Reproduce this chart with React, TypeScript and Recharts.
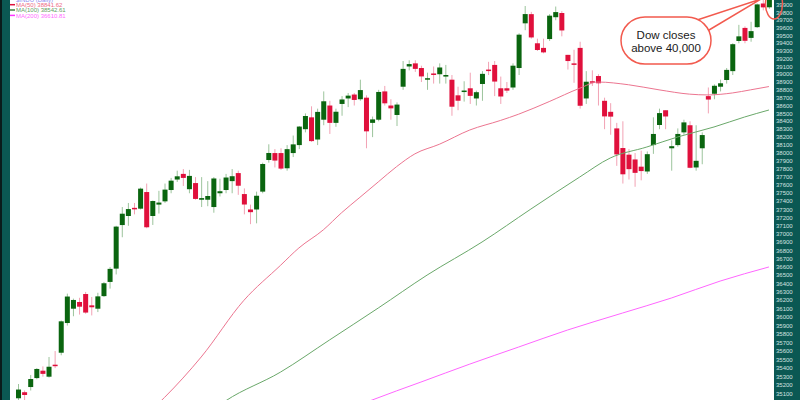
import { Bar, ComposedChart, Line, XAxis, YAxis } from "recharts";

// Dow Jones Industrial Average, daily candles (Nov 20 2023 - May 17 2024)
const dates = [
  "11/20", "11/21", "11/22", "11/24", "11/27", "11/28", "11/29", "11/30",
  "12/01", "12/04", "12/05", "12/06", "12/07", "12/08", "12/11", "12/12", "12/13", "12/14", "12/15", "12/18",
  "12/19", "12/20", "12/21", "12/22", "12/26", "12/27", "12/28", "12/29",
  "01/02", "01/03", "01/04", "01/05", "01/08", "01/09", "01/10", "01/11", "01/12", "01/16", "01/17", "01/18",
  "01/19", "01/22", "01/23", "01/24", "01/25", "01/26", "01/29", "01/30", "01/31",
  "02/01", "02/02", "02/05", "02/06", "02/07", "02/08", "02/09", "02/12", "02/13", "02/14", "02/15", "02/16",
  "02/20", "02/21", "02/22", "02/23", "02/26", "02/27", "02/28", "02/29",
  "03/01", "03/04", "03/05", "03/06", "03/07", "03/08", "03/11", "03/12", "03/13", "03/14", "03/15", "03/18",
  "03/19", "03/20", "03/21", "03/22", "03/25", "03/26", "03/27", "03/28",
  "04/01", "04/02", "04/03", "04/04", "04/05", "04/08", "04/09", "04/10", "04/11", "04/12", "04/15", "04/16",
  "04/17", "04/18", "04/19", "04/22", "04/23", "04/24", "04/25", "04/26", "04/29", "04/30",
  "05/01", "05/02", "05/03", "05/06", "05/07", "05/08", "05/09", "05/10", "05/13", "05/14", "05/15", "05/16", "05/17"
];

const opens = [
  35050, 35120, 35180, 35284, 35370, 35300, 35440, 35580, 35930, 36100, 36180, 36275, 36140, 36100, 36250, 36420,
  36580, 37109, 37220, 37320, 37310, 37515, 37220, 37360, 37400, 37540, 37670, 37740, 37550, 37626, 37420, 37420,
  37330, 37500, 37540, 37650, 37750, 37490, 37300, 37300, 37520, 37913, 38000, 38000, 37810, 38000, 38100, 38300,
  38450, 38170, 38420, 38600, 38380, 38620, 38690, 38740, 38680, 38700, 38380, 38420, 38780, 38600, 38480, 38840,
  39100, 39140, 39080, 38930, 39010, 39000, 38970, 38930, 38730, 38780, 38820, 38690, 38875, 39060, 39120, 38820,
  38820, 38830, 39080, 39660, 39780, 39400, 39340, 39455, 39740, 39795, 39250, 39140, 39340, 38690, 38910, 38977,
  38660, 38520, 38310, 38063, 37980, 37920, 37830, 37770, 38100, 38353, 38540, 38060, 38100, 38260, 38350, 37820,
  38060, 38720, 38750, 38840, 38926, 39040, 39430, 39600, 39470, 39610, 39920, 39870
];

const highs = [
  35215, 35140, 35320, 35400, 35420, 35530, 35600, 35960, 36280, 36220, 36230, 36300, 36240, 36290, 36420, 36600,
  37100, 37330, 37380, 37380, 37570, 37620, 37410, 37530, 37620, 37690, 37780, 37800, 37790, 37700, 37700, 37650,
  37700, 37680, 37740, 37800, 37780, 37560, 37360, 37520, 37880, 38110, 38050, 38060, 38100, 38220, 38340, 38500,
  38590, 38560, 38780, 38660, 38560, 38720, 38760, 38760, 38930, 38730, 38460, 38800, 38850, 38680, 38640, 39170,
  39180, 39180, 39110, 39020, 39100, 39140, 39120, 38990, 38840, 38910, 39020, 38790, 39040, 39160, 39170, 38970,
  38900, 39140, 39530, 39887, 39810, 39460, 39460, 39780, 39880, 39820, 39250, 39316, 39420, 39040, 39050, 39000,
  38700, 38630, 38380, 38400, 38050, 38000, 38030, 38020, 38450, 38560, 38540, 38160, 38310, 38420, 38400, 38350,
  38260, 38830, 38870, 38930, 39080, 39400, 39640, 39620, 39680, 39920, 40051, 40077
];

const lows = [
  35000, 35020, 35140, 35270, 35300, 35290, 35400, 35550, 35900, 36010, 36030, 36040, 36020, 36060, 36240, 36340,
  36510, 36960, 37100, 37240, 37300, 37070, 37110, 37250, 37380, 37500, 37640, 37590, 37500, 37420, 37330, 37340,
  37260, 37460, 37500, 37500, 37480, 37240, 37120, 37130, 37500, 37880, 37820, 37790, 37780, 37950, 38050, 38260,
  38140, 38100, 38350, 38240, 38330, 38470, 38580, 38600, 38660, 38060, 38200, 38400, 38600, 38420, 38340, 38800,
  39050, 39030, 38900, 38800, 38880, 38880, 38880, 38470, 38540, 38650, 38620, 38600, 38660, 38990, 38720, 38620,
  38760, 38800, 38990, 39570, 39460, 39300, 39270, 39430, 39700, 39490, 39060, 38890, 38560, 38620, 38850, 38600,
  38300, 38230, 37840, 37620, 37670, 37580, 37660, 37740, 37990, 38300, 38300, 37780, 38080, 38230, 37810, 37780,
  37860, 38500, 38680, 38780, 38880, 38990, 39400, 39400, 39420, 39600, 39830, 39850
];

const closes = [
  35151, 35088, 35273, 35390, 35333, 35416, 35430, 35950, 36245, 36204, 36124, 36054, 36117, 36247, 36404, 36577,
  37090, 37248, 37305, 37306, 37557, 37082, 37404, 37385, 37545, 37656, 37710, 37690, 37715, 37430, 37440, 37466,
  37683, 37525, 37695, 37711, 37593, 37361, 37267, 37469, 37863, 38001, 37906, 37806, 38049, 38109, 38333, 38467,
  38150, 38519, 38654, 38380, 38521, 38677, 38726, 38671, 38797, 38273, 38424, 38773, 38628, 38564, 38612, 39069,
  39131, 39069, 38972, 38949, 38996, 39087, 38990, 38585, 38661, 38791, 38723, 38770, 39005, 39043, 38906, 38715,
  38790, 39110, 39512, 39781, 39476, 39313, 39282, 39760, 39807, 39567, 39170, 39127, 38597, 38904, 38892, 38884,
  38462, 38459, 37983, 37735, 37799, 37753, 37775, 37986, 38240, 38504, 38461, 38086, 38240, 38386, 37816, 37903,
  38226, 38676, 38852, 38884, 39056, 39388, 39490, 39432, 39558, 39908, 39869, 40003
];

// moving averages at [candle index, value]
const ma50Points = [
  [18, 34680], [24, 35060], [30, 35530], [37, 36200], [43, 36620], [46, 36830], [50, 37050], [53, 37260],
  [56, 37450], [59, 37640], [62, 37830], [65, 37990], [69, 38110], [74, 38290], [79, 38410], [82, 38490],
  [87, 38650], [92, 38820], [95, 38900], [100, 38865], [105, 38800], [110, 38745], [113, 38735], [117, 38760],
  [120, 38800], [123, 38842]
];
const ma100Points = [
  [28, 34700], [34, 35020], [43, 35354], [51, 35729], [59, 36108], [67, 36502], [76, 36902], [84, 37305],
  [92, 37701], [97, 37938], [103, 38076], [108, 38201], [114, 38328], [119, 38454], [123, 38543]
];
const ma200Points = [
  [50, 34800], [58, 35030], [66, 35238], [74, 35447], [82, 35647], [90, 35847], [99, 36048], [107, 36227],
  [115, 36430], [123, 36600]
];

const yTicks = [
  35100, 35200, 35300, 35400, 35500, 35600, 35700, 35800, 35900, 36000, 36100, 36200, 36300, 36400, 36500, 36600,
  36700, 36800, 36900, 37000, 37100, 37200, 37300, 37400, 37500, 37600, 37700, 37800, 37900, 38000, 38100, 38200,
  38300, 38400, 38500, 38600, 38700, 38800, 38900, 39000, 39100, 39200, 39300, 39400, 39500, 39600, 39700, 39800,
  39900
];

const TEAL = "#0b5853";
const UP = "#0a650f";
const DOWN = "#e0103c";
const UP_WICK = "#9cc49c";
const DOWN_WICK = "#f2a2b4";
const CALLOUT = "#f25a4e";

const lookup = (points: number[][], i: number) => {
  const hit = points.find((p) => p[0] === i);
  return hit ? hit[1] : null;
};

const rows = dates.map((date, i) => ({
  date,
  open: opens[i],
  high: highs[i],
  low: lows[i],
  close: closes[i],
  range: [lows[i], highs[i]],
  ma50: lookup(ma50Points, i),
  ma100: lookup(ma100Points, i),
  ma200: lookup(ma200Points, i)
}));

function Candle(props: any) {
  const { x, y, width, height, payload } = props;
  if (!payload || height == null) return null;
  const { open, close, high, low } = payload;
  const lnH = Math.log(high);
  const span = lnH - Math.log(low) || 1;
  const py = (v: number) => y + (height * (lnH - Math.log(v))) / span;
  const up = close >= open;
  const top = py(Math.max(open, close));
  const bot = py(Math.min(open, close));
  const cx = x + width / 2;
  return (
    <g>
      <line x1={cx} x2={cx} y1={y} y2={y + height} stroke={up ? UP_WICK : DOWN_WICK} strokeWidth={1} />
      <rect x={x} y={top} width={width} height={Math.max(bot - top, 1.5)} fill={up ? UP : DOWN} />
    </g>
  );
}

export default function App() {
  return (
    <div
      style={{
        position: "absolute",
        left: 0,
        top: 0,
        width: 800,
        height: 400,
        background: TEAL,
        overflow: "hidden",
        fontFamily: "'Liberation Sans', Arial, sans-serif"
      }}
    >
      <div style={{ position: "absolute", left: 0, top: 0, width: 2, height: 400, background: "#0a1b1b" }} />
      <div style={{ position: "absolute", left: 10, top: 0, width: 764, height: 400, background: "#ffffff" }} />
      <div style={{ position: "absolute", left: 0, top: 0 }}>
        <ComposedChart width={800} height={400} data={rows} margin={{ top: 0, right: 0, bottom: 0, left: 15 }}>
          <XAxis dataKey="date" hide />
          <YAxis
            orientation="right"
            width={28}
            scale="log"
            domain={[35030, 39966]}
            allowDataOverflow
            ticks={yTicks}
            interval={0}
            axisLine={false}
            tickLine={false}
            tickSize={2}
            tickMargin={2}
            tick={{ fontSize: 6, fill: "#d4e2e0" }}
          />
          <Line dataKey="ma200" type="monotone" connectNulls dot={false} stroke="#ff66ff" strokeWidth={1} isAnimationActive={false} />
          <Line dataKey="ma100" type="monotone" connectNulls dot={false} stroke="#6aa86a" strokeWidth={1} isAnimationActive={false} />
          <Line dataKey="ma50" type="monotone" connectNulls dot={false} stroke="#ec7590" strokeWidth={1} isAnimationActive={false} />
          <Bar dataKey="range" barSize={5} shape={<Candle />} isAnimationActive={false} />
        </ComposedChart>
      </div>
      <svg width={800} height={400} style={{ position: "absolute", left: 0, top: 0, pointerEvents: "none" }}>
        <text x={16} y={1.5} fontSize={6} fill="#8c8cf0">$INDU (Daily)</text>
        <line x1={10} x2={15} y1={4.7} y2={4.7} stroke={DOWN} strokeWidth={1.5} />
        <text x={16} y={6.8} fontSize={6} fill="#ee6b84">MA(50) 38841.62</text>
        <line x1={10} x2={15} y1={10} y2={10} stroke="#3f7f3f" strokeWidth={1.5} />
        <text x={16} y={12.1} fontSize={6} fill="#62a062">MA(100) 38542.61</text>
        <line x1={10} x2={15} y1={15.4} y2={15.4} stroke="#ff33ff" strokeWidth={1.5} />
        <text x={16} y={17.5} fontSize={6} fill="#ff6cff">MA(200) 36610.81</text>

        <path d="M 688 23 L 761 -1 L 704 33" fill="#ffffff" stroke={CALLOUT} strokeWidth={1.5} strokeLinejoin="round" />
        <rect x={621} y={17} width={90} height={47} rx={24} fill="#ffffff" stroke={CALLOUT} strokeWidth={1.5} />
        <text x={666} y={39} fontSize={11.5} textAnchor="middle" fill="#1a1a1a">Dow closes</text>
        <text x={666} y={52} fontSize={11.5} textAnchor="middle" fill="#1a1a1a">above 40,000</text>
        <ellipse cx={774} cy={4} rx={8.5} ry={15} fill="none" stroke={CALLOUT} strokeWidth={1.5} />
      </svg>
    </div>
  );
}
